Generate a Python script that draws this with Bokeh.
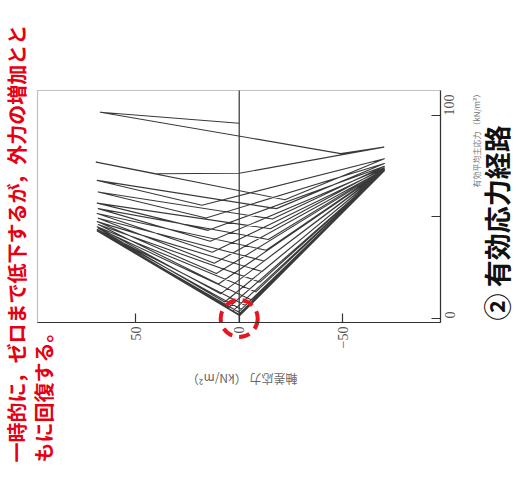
import math
from bokeh.plotting import figure
from bokeh.models import Range1d, FixedTicker, Label, LinearAxis, BoxAnnotation
from bokeh.embed import file_html
from bokeh.resources import INLINE

# Effective stress path:
# q = deviator stress (kN/m2), p = mean effective principal stress (kN/m2)
path_q = [0.0, 67.0, -49.0, -69.8, 0.0, 40.0, 69.0, -22.0, -70.0, 18.0,
          68.5, -18.0, -70.0, 16.0, 68.0, -16.0, -70.0, 15.0, 68.5, -15.0,
          -70.0, 14.0, 68.0, -14.0, -70.0, 13.0, 68.5, -13.0, -70.0, 12.0,
          68.0, -12.0, -70.0, 11.0, 68.5, -11.0, -70.0, 10.0, 68.0, -10.0,
          -70.0, 9.0, 68.5, -8.0, -70.0, 7.0, 68.0, -6.0, -70.0, 5.0,
          68.5, -4.0, -70.0, 3.0, 68.2, -2.0, -70.0, 1.0, 68.5, -1.0,
          -70.0, 0.5, 68.3, -0.5, -70.0, 0.0, 68.5, 0.0, -69.8]
path_p = [96.2, 101.6, 81.2, 84.4, 71.5, 71.3, 77.0, 58.5, 78.7, 55.8,
          68.0, 54.1, 76.3, 49.5, 62.3, 49.0, 75.0, 43.4, 56.8, 44.2,
          74.2, 38.0, 54.1, 38.9, 73.7, 32.6, 51.7, 33.6, 73.4, 27.2,
          49.4, 28.3, 73.2, 22.1, 47.7, 23.1, 73.0, 17.0, 46.3, 17.9,
          72.9, 12.1, 45.2, 13.1, 72.8, 8.1, 44.4, 9.1, 72.8, 5.5,
          43.8, 5.9, 72.8, 3.7, 43.5, 3.9, 72.7, 2.5, 43.3, 2.4,
          72.8, 1.8, 43.2, 1.6, 72.7, 1.5, 43.1, 1.5, 72.9]

# point highlighted by the red dashed circle (zero effective stress)
mark_q = [0.0]
mark_p = [0.0]

# extent of the original plot box
q_hi, q_lo = 97.3, -97.1
p_lo, p_hi = -2.0, 112.3

q_ticks = [50, 0, -50]
q_tick_labels = {50: "50", 0: "0", -50: "−50"}
p_ticks = [0, 50, 100]
p_tick_labels = {0: "0", 50: "", 100: "100"}

q_axis_title = "軸差応力 （kN/m²）"
p_axis_title = "有効平均主応力 （kN/m²）"
note_line1 = "一時的に，ゼロまで低下するが，外力の増加とと"
note_line2 = "もに回復する。"
panel_title = "② 有効応力経路"

W, H = 516, 486
p = figure(width=W, height=H, output_backend="svg", toolbar_location=None,
           x_range=Range1d(115.15, -133.76), y_range=Range1d(-82.8, 156.64),
           x_axis_location=None, y_axis_location=None,
           min_border=0, min_border_left=0, min_border_right=0,
           min_border_top=0, min_border_bottom=0)
p.grid.visible = False
p.outline_line_color = None
p.background_fill_color = "white"
p.border_fill_color = "white"

# plot box
p.add_layout(BoxAnnotation(left=q_hi, right=q_lo, bottom=p_lo, top=p_hi,
                           fill_color=None, fill_alpha=0,
                           line_color="#333333", line_width=1.2))

# axes, fixed at the edges of the plot box
xax = LinearAxis(fixed_location=p_lo, bounds=(q_lo, q_hi))
yax = LinearAxis(fixed_location=q_lo, bounds=(p_lo, p_hi))
for ax in (xax, yax):
    ax.axis_line_color = "#333333"
    ax.axis_line_width = 1.2
    ax.major_tick_in = 9
    ax.major_tick_out = 0
    ax.minor_tick_line_color = None
    ax.major_tick_line_color = "#333333"
    ax.major_tick_line_width = 1.2
    ax.major_label_text_font = "Liberation Serif"
    ax.major_label_text_font_size = "14px"
    ax.major_label_text_color = "#555555"
    ax.major_label_orientation = math.pi / 2
xax.ticker = FixedTicker(ticks=q_ticks)
xax.major_label_overrides = q_tick_labels
xax.major_label_standoff = 4
yax.ticker = FixedTicker(ticks=p_ticks)
yax.major_label_overrides = p_tick_labels
yax.major_label_standoff = 9
p.add_layout(xax, "below")
p.add_layout(yax, "right")

# q = 0 line
p.segment(x0=[0], y0=[p_lo], x1=[0], y1=[p_hi], line_color="#333333", line_width=1.2)

# effective stress path
p.line(path_q, path_p, line_color="#3a3a3a", line_width=1.1, line_join="round")

# red dashed circle at zero
p.scatter(mark_q, mark_p, marker="circle", size=37, fill_alpha=0,
          line_color="#e8151e", line_width=4, line_dash="11 7")

cjk = "Noto Sans CJK JP"
p.add_layout(Label(x=-1.35, y=-30.1, text=q_axis_title, angle=math.pi,
                   text_align="center", text_baseline="middle",
                   text_font=cjk, text_font_size="12px", text_color="#666666"))
p.add_layout(Label(x=-114.5, y=64.5, text=p_axis_title, angle=math.pi / 2,
                   text_align="left", text_baseline="middle",
                   text_font=cjk, text_font_size="8px", text_color="#777777"))
p.add_layout(Label(x=-124.1, y=-1.0, text=panel_title, angle=math.pi / 2,
                   text_align="left", text_baseline="middle",
                   text_font=cjk, text_font_size="27px", text_font_style="bold",
                   text_color="#111111"))
p.add_layout(Label(x=107.4, y=-71.0, text=note_line1, angle=math.pi / 2,
                   text_align="left", text_baseline="middle",
                   text_font=cjk, text_font_size="20px", text_font_style="bold",
                   text_color="#e60012"))
p.add_layout(Label(x=94.4, y=-71.0, text=note_line2, angle=math.pi / 2,
                   text_align="left", text_baseline="middle",
                   text_font=cjk, text_font_size="20px", text_font_style="bold",
                   text_color="#e60012"))

open("out.html", "w").write(file_html(p, INLINE))
